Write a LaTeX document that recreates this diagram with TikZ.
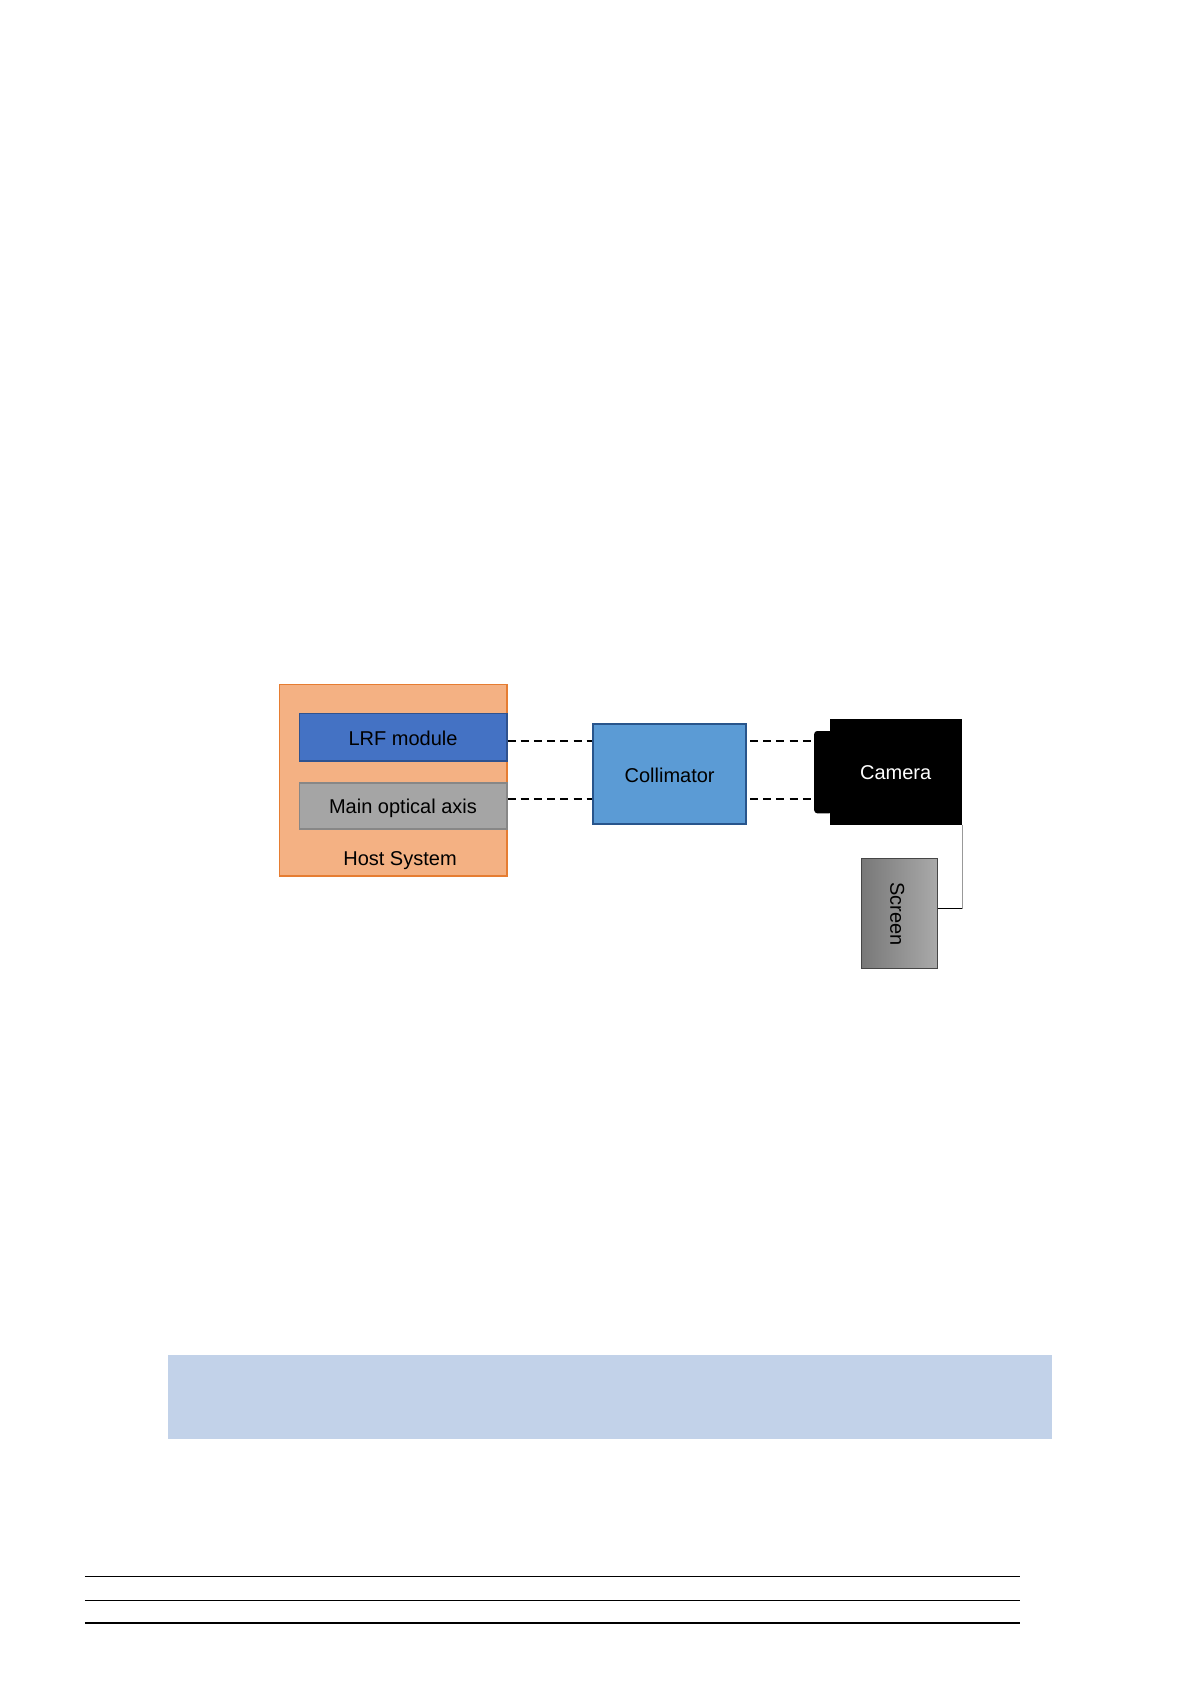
\documentclass[tikz,border=0pt]{standalone}
\usepackage{fontspec}
\setmainfont{Liberation Sans}
\begin{document}
\begin{tikzpicture}[x=0.5pt,y=-0.5pt,
  box/.style={rectangle, inner sep=0pt, text height=8pt, text depth=0pt, font=\fontsize{10}{12}\selectfont},
  beam/.style={black, line width=0.85pt, dash pattern=on 4pt off 2.6pt},
  rule/.style={black, line width=0.7pt}]
\useasboundingbox (0,0) rectangle (1190,1684);
% host system
\node[box, draw={rgb,255:red,230;green,125;blue,50}, line width=0.8pt, fill={rgb,255:red,244;green,177;blue,131},
  minimum width=113.7pt, minimum height=95.85pt] (host) at (393,780.35) {};
\node[box, draw={rgb,255:red,47;green,82;blue,143}, line width=0.8pt, fill={rgb,255:red,68;green,114;blue,196},
  minimum width=103.7pt, minimum height=23.7pt] (lrf) at (403,737) {LRF module};
\node[box, draw={rgb,255:red,135;green,135;blue,135}, line width=0.8pt, fill={rgb,255:red,165;green,165;blue,165},
  minimum width=103.7pt, minimum height=23pt] (moa) at (403,805.7) {Main optical axis};
\node[box] (hostlbl) at (400,857) {Host System};
% collimator
\node[box, draw={rgb,255:red,40;green,85;blue,140}, line width=1pt, fill={rgb,255:red,91;green,155;blue,213},
  minimum width=76.35pt, minimum height=50pt] (coll) at (669.65,774) {Collimator};
% camera
\node[box, fill=black, rounded corners=1.5pt, minimum width=9pt, minimum height=41.15pt] (lens) at (823.2,772.15) {};
\node[box, fill=black, text=white, minimum width=66pt, minimum height=52.85pt] (cam) at (896,771.85) {};
\node[box, text=white] (camlbl) at (895.7,771.5) {Camera};
% screen
\node[box, draw={rgb,255:red,70;green,70;blue,70}, line width=0.6pt,
  left color={rgb,255:red,120;green,120;blue,120}, right color={rgb,255:red,170;green,170;blue,170},
  minimum width=38.2pt, minimum height=55pt] (scr) at (899.5,913.7) {};
\node[box, rotate=-90] (scrlbl) at (898.3,913.7) {Screen};
% blue band
\node[box, fill={rgb,255:red,194;green,210;blue,233}, minimum width=442pt, minimum height=41.8pt] (band) at (609.5,1397.2) {};
% beams
\draw[beam] ([yshift=-2.15pt]lrf.east) coordinate (b1) -- (b1 -| coll.west);
\draw[beam] ([xshift=1.5pt]b1 -| coll.east) -- ([xshift=-1pt]b1 -| lens.west);
\draw[beam] ([yshift=3.2pt]moa.east) coordinate (b2) -- (b2 -| coll.west);
\draw[beam] ([xshift=1.5pt]b2 -| coll.east) -- ([xshift=-1pt]b2 -| lens.west);
% camera-screen cable
\coordinate (k) at (cam.south east |- 0,908.7);
\draw[line width=0.6pt, gray!80] (cam.south east) -- (k);
\draw[line width=0.7pt, black] (k) -- (k -| scr.east);
% bottom rules
\coordinate (r1a) at (84.8,1576.7); \coordinate (r1b) at (1020.3,1576.7);
\coordinate (r2a) at (84.8,1600.3); \coordinate (r2b) at (1020.3,1600.3);
\coordinate (r3a) at (84.8,1622.9); \coordinate (r3b) at (1020.3,1622.9);
\draw[rule] (r1a) -- (r1b);
\draw[rule] (r2a) -- (r2b);
\draw[rule] (r3a) -- (r3b);
\end{tikzpicture}
\end{document}
